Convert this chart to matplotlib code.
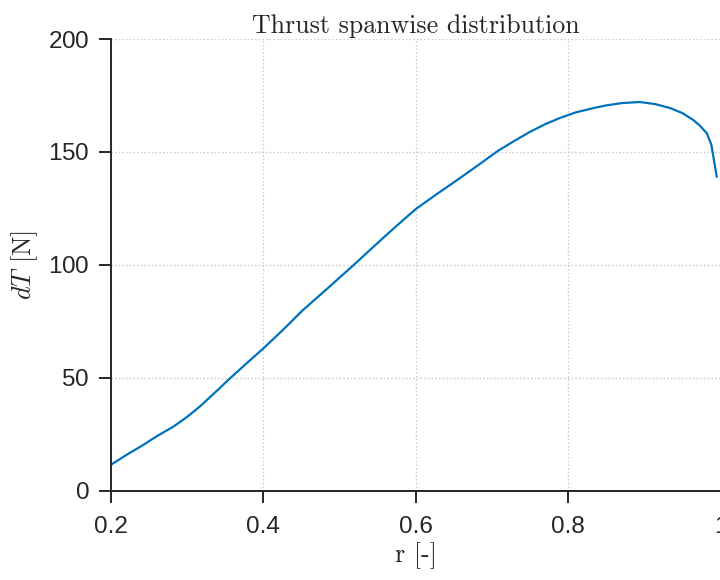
import matplotlib
matplotlib.use("Agg")
import matplotlib.pyplot as plt

# values
r = [0.2, 0.22, 0.242, 0.26, 0.282, 0.30, 0.317, 0.336, 0.356, 0.378,
     0.4, 0.426, 0.452, 0.485, 0.518, 0.54, 0.562, 0.58, 0.6, 0.63,
     0.658, 0.683, 0.708, 0.73, 0.75, 0.77, 0.789, 0.81, 0.833, 0.85,
     0.87, 0.894, 0.914, 0.934, 0.95, 0.964, 0.973, 0.982, 0.988, 0.995]
dT = [11.5, 15.8, 20.2, 24.1, 28.4, 32.7, 37.4, 43.3, 49.7, 56.4,
      63.0, 71.3, 80.0, 89.8, 99.8, 106.6, 113.4, 118.8, 124.7, 131.9,
      138.4, 144.4, 150.5, 155.0, 158.9, 162.3, 165.0, 167.5, 169.4, 170.6,
      171.6, 172.1, 171.2, 169.4, 167.2, 164.2, 161.6, 158.3, 153.2, 139.1]

xticks = [0.2, 0.4, 0.6, 0.8, 1.0]
xticklabels = ["0.2", "0.4", "0.6", "0.8", "1"]
yticks = [0, 50, 100, 150, 200]

plt.rcParams['mathtext.fontset'] = 'cm'
plt.rcParams['axes.formatter.use_mathtext'] = True

fig = plt.figure(figsize=(7.2, 5.8), dpi=100)
ax = fig.add_axes([111/720, 1 - 490.7/580, 609.5/720, 451.7/580])

ax.plot(r, dT, color='#0072BD', linewidth=1.6)

ax.set_xlim(0.2, 1.0)
ax.set_ylim(0, 200)
ax.set_xticks(xticks)
ax.set_xticklabels(xticklabels)
ax.set_yticks(yticks)

ax.grid(True, linestyle=':', color='#c8c8c8', linewidth=1.0)
ax.set_axisbelow(True)

for s in ['top', 'right']:
    ax.spines[s].set_visible(False)
for s in ['left', 'bottom']:
    ax.spines[s].set_linewidth(1.4)
    ax.spines[s].set_color('#262626')

ax.tick_params(direction='out', length=8.5, width=1.4, color='#262626',
               labelsize=17.5, labelcolor='#262626')
ax.tick_params(axis='x', pad=10)
ax.tick_params(axis='y', pad=7)
for lab in ax.get_xticklabels() + ax.get_yticklabels():
    lab.set_fontfamily('Liberation Sans')

ax.set_title('Thrust spanwise distribution', family='cmr10', fontsize=18.7,
             color='#262626', pad=4)
ax.set_xlabel('r [-]', family='cmr10', fontsize=18.7, color='#262626', labelpad=3)
ax.set_ylabel(r'$dT$ [N]', family='cmr10', fontsize=18.7, color='#262626', labelpad=6)

fig.savefig('out.png', dpi=100)
